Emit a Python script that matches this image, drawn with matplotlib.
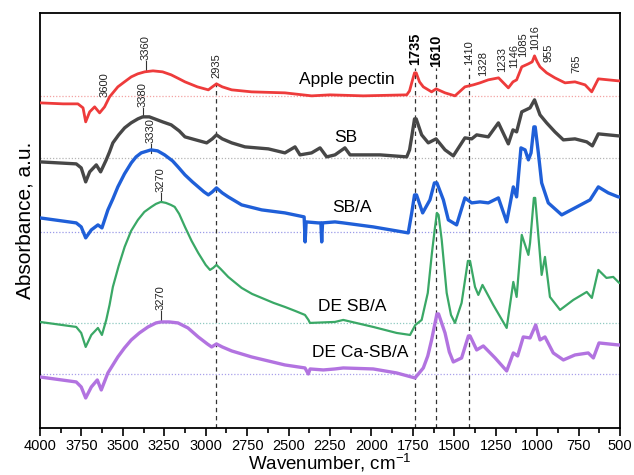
import numpy as np
import matplotlib
matplotlib.use("Agg")
import matplotlib.pyplot as plt

plt.rcParams['font.family'] = ['Liberation Sans', 'DejaVu Sans']
plt.rcParams['mathtext.default'] = 'regular'

# spectra: wavenumber (cm-1) and absorbance above each curve's own baseline (a.u. x100)
pectin_wn = [4000, 3860, 3771, 3740, 3724, 3700, 3670, 3640, 3610, 3580, 3555, 3530, 3490, 3449,
             3410, 3368, 3318, 3260, 3208, 3160, 3125, 3050, 2984, 2960, 2935, 2900, 2843, 2723,
             2522, 2361, 2250, 2049, 1787, 1770, 1757, 1740, 1730, 1710, 1687, 1637, 1610, 1556,
             1496, 1436, 1385, 1345, 1295, 1233, 1174, 1146, 1124, 1093, 1053, 1030, 1016, 1000,
             983, 943, 893, 832, 772, 711, 671, 631, 511, 500]
pectin_ab = [-7, -8, -8, -12, -26, -16, -11, -17, -11, -1, 4, 9, 14, 19,
             22, 24, 25, 24, 21, 17, 14, 9, 6, 9, 12, 9, 6, 4,
             3, 0, 1, 0, 1, 5, 13, 23, 23, 14, 9, 4, 7, 3,
             0, 9, 11, 13, 16, 18, 8, 14, 16, 29, 32, 34, 40, 34,
             29, 23, 18, 13, 14, 11, 4, 17, 15, 15]

sb_wn = [4000, 3781, 3751, 3724, 3700, 3660, 3634, 3600, 3580, 3560, 3525, 3489, 3450, 3409,
         3380, 3340, 3308, 3260, 3208, 3160, 3125, 3060, 2994, 2960, 2935, 2900, 2843, 2763,
         2622, 2522, 2461, 2431, 2361, 2310, 2270, 2220, 2160, 2129, 1948, 1787, 1770, 1757,
         1740, 1730, 1697, 1657, 1610, 1556, 1506, 1436, 1395, 1365, 1295, 1234, 1174, 1146,
         1124, 1093, 1043, 1016, 983, 943, 893, 842, 772, 701, 667, 631, 511, 500]
sb_ab = [-4, -6, -10, -24, -14, -7, -14, -2, 6, 15, 23, 30, 35, 39,
         41, 41, 39, 36, 33, 27, 21, 18, 15, 19, 23, 19, 15, 11,
         9, 5, 11, 3, 5, 10, 1, 3, 10, 3, 3, 1, 8, 21,
         39, 39, 23, 15, 19, 8, 2, 20, 19, 23, 21, 35, 14, 28,
         26, 46, 50, 58, 43, 35, 26, 18, 19, 16, 12, 24, 22, 22]

sba_wn = [4000, 3781, 3751, 3724, 3690, 3650, 3626, 3590, 3560, 3530, 3490, 3449, 3420, 3389,
          3330, 3290, 3248, 3200, 3167, 3125, 3080, 3045, 3010, 2984, 2960, 2935, 2900, 2864,
          2783, 2662, 2522, 2406, 2400, 2394, 2321, 2305, 2300, 2295, 2220, 2170, 1989, 1848,
          1778, 1757, 1740, 1728, 1691, 1647, 1620, 1605, 1566, 1536, 1486, 1436, 1395, 1345,
          1295, 1234, 1184, 1144, 1124, 1098, 1073, 1053, 1037, 1020, 1012, 993, 973, 933,
          852, 772, 681, 631, 571, 511, 500]
sba_ab = [14, 9, 5, -6, 2, 7, 4, 22, 33, 45, 58, 69, 75, 79,
          82, 81, 77, 71, 65, 57, 50, 45, 40, 37, 40, 44, 39, 35,
          27, 22, 19, 15, -10, 10, 9, 9, -10, 9, 10, 9, 5, 1,
          -1, 19, 37, 37, 19, 32, 49, 49, 32, 12, 7, 34, 29, 30,
          29, 34, 10, 45, 35, 84, 82, 72, 79, 105, 105, 79, 49, 29,
          17, 24, 32, 45, 39, 35, 35]

desba_wn = [4000, 3781, 3751, 3724, 3690, 3650, 3626, 3600, 3580, 3560, 3525, 3489, 3450, 3409,
            3370, 3328, 3300, 3270, 3240, 3210, 3187, 3160, 3125, 3085, 3045, 3000, 2974, 2955,
            2935, 2910, 2864, 2820, 2783, 2720, 2662, 2590, 2522, 2460, 2401, 2380, 2371, 2220,
            2170, 1989, 1848, 1767, 1735, 1697, 1660, 1635, 1617, 1605, 1595, 1576, 1546, 1520,
            1496, 1456, 1418, 1405, 1375, 1355, 1330, 1265, 1184, 1144, 1124, 1093, 1053, 1043,
            1020, 1012, 973, 953, 923, 862, 782, 701, 670, 631, 582, 541, 505, 500]
desba_ab = [1, -4, -10, -24, -12, -5, -12, 3, 18, 36, 57, 76, 92, 103,
            111, 116, 119, 121, 120, 118, 116, 109, 96, 82, 70, 58, 53, 55,
            58, 54, 46, 40, 35, 29, 25, 20, 16, 12, 8, 3, 0, 1,
            3, -4, -10, -12, -2, 3, 30, 70, 95, 110, 108, 83, 30, 8,
            0, 20, 62, 62, 36, 28, 38, 18, -5, 41, 26, 88, 68, 80,
            125, 125, 48, 66, 26, 13, 23, 31, 25, 53, 45, 46, 40, 40]

deca_wn = [4000, 3781, 3751, 3724, 3690, 3654, 3630, 3590, 3560, 3530, 3490, 3449, 3400, 3348,
           3300, 3270, 3220, 3167, 3107, 3045, 2990, 2964, 2935, 2900, 2843, 2723, 2522, 2401,
           2381, 2370, 2290, 2220, 2170, 1989, 1848, 1737, 1687, 1660, 1637, 1605, 1595, 1556,
           1530, 1506, 1456, 1415, 1405, 1365, 1325, 1254, 1184, 1144, 1118, 1084, 1043, 1009,
           983, 953, 903, 842, 772, 692, 661, 627, 511, 500]
deca_ab = [-3, -8, -13, -24, -13, -6, -16, 1, 9, 17, 26, 34, 41, 47,
           51, 52, 52, 51, 46, 37, 30, 27, 30, 27, 23, 17, 9, 6,
           0, 5, 4, 5, 6, 5, 1, -4, 6, 18, 34, 60, 60, 41,
           22, 12, 16, 38, 38, 24, 28, 16, 3, 21, 18, 37, 36, 49,
           34, 37, 21, 14, 19, 21, 16, 31, 29, 29]

names = ['Apple pectin', 'SB', 'SB/A', 'DE SB/A', 'DE Ca-SB/A']
offsets = [332, 270, 196, 105, 54]
colors = ['#ee3b3b', '#474747', '#1f5fd8', '#3aa866', '#b273e0']
base_colors = ['#f3a3a3', '#b5b5b5', '#9a9ae8', '#8fc9c0', '#a9a0ea']
widths = [2.0, 2.4, 2.4, 1.6, 2.4]
spectra = [(pectin_wn, pectin_ab), (sb_wn, sb_ab), (sba_wn, sba_ab),
           (desba_wn, desba_ab), (deca_wn, deca_ab)]

# marked bands
dashed_bands = [2935, 1735, 1610, 1410]
small_labels = [('3600', 3608, 331), ('2935', 2935, 350), ('1410', 1410, 363), ('1328', 1327, 352),
                ('1233', 1212, 356), ('1146', 1140, 360), ('1085', 1086, 371), ('1016', 1013, 378),
                ('955', 929, 366), ('765', 766, 355)]
peak_labels = [('3360', 3360, 358), ('3380', 3380, 311), ('3330', 3330, 275),
               ('3270', 3270, 226), ('3270', 3270, 108)]
bold_labels = [('1735', 1735, 363), ('1610', 1610, 361)]
name_pos = [(2148, 348), (2154, 290), (2117, 220), (2114, 121), (2066, 75)]

fig = plt.figure(figsize=(6.34, 4.75), dpi=100)
ax = fig.add_axes([0.063, 0.099, 0.915, 0.874])

for i in range(len(names)):
    wn, ab = spectra[i]
    ax.axhline(offsets[i], color=base_colors[i], lw=0.9, ls=(0, (1, 1.5)), zorder=1)
    ax.plot(wn, np.array(ab) + offsets[i], color=colors[i], lw=widths[i], zorder=3)
    ax.text(name_pos[i][0], name_pos[i][1], names[i], fontsize=12.5, ha='center', va='center')

for b in dashed_bands:
    top = 348 if b == 2935 else 360
    ax.plot([b, b], [0, top], color='#333333', lw=0.9, ls=(0, (3.5, 3)), zorder=2)

for txt, x, y in small_labels:
    ax.text(x, y, txt, rotation=90, fontsize=8, ha='center', va='bottom', color='#222222')

for txt, x, y in peak_labels:
    ax.plot([x, x], [y, y + 9], color='#333333', lw=0.8)
    ax.text(x, y + 10, txt, rotation=90, fontsize=8, ha='center', va='bottom', color='#222222')

for txt, x, y in bold_labels:
    ax.text(x, y, txt, rotation=90, fontsize=10.5, fontweight='bold', ha='center', va='bottom')

ax.set_xlim(4000, 500)
ax.set_ylim(0, 415)
ax.set_xticks(np.arange(4000, 499, -250))
ax.set_xticks(np.arange(3875, 500, -250), minor=True)
ax.set_yticks([])
ax.tick_params(axis='x', which='major', direction='out', length=6, width=1.2, labelsize=10.5, pad=2)
ax.tick_params(axis='x', which='minor', direction='out', length=3.5, width=1.2)
for s in ax.spines.values():
    s.set_linewidth(1.3)
# x label placed by hand so it stays inside the canvas
fig.text(0.52, 0.002, 'Wavenumber, cm$^{-1}$', fontsize=13.5, ha='center', va='bottom')
ax.set_ylabel('Absorbance, a.u.', fontsize=15, labelpad=4)

fig.savefig('out.png', dpi=100)
